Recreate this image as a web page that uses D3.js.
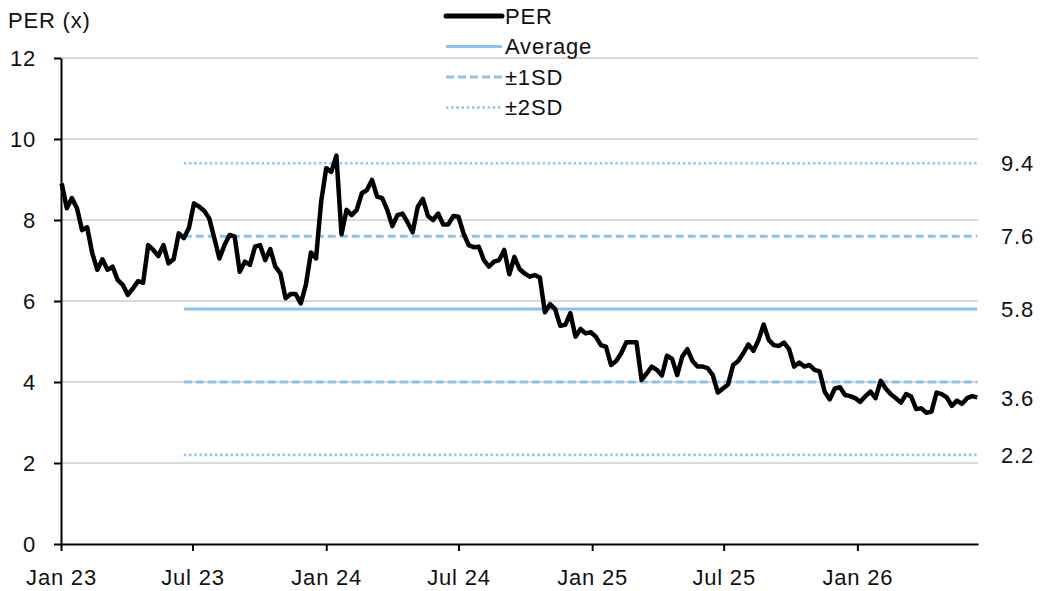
<!DOCTYPE html>
<html><head><meta charset="utf-8">
<script src="https://cdn.jsdelivr.net/npm/d3@7"></script>
<style>
body{margin:0;background:#fff}
svg{display:block}
text{font-family:"Liberation Sans",Arial,Helvetica,sans-serif;font-size:22px;fill:#111;letter-spacing:0.8px}
</style>
</head><body>
<svg id="chart" width="1064" height="591"></svg>
<script>
// ---- data ----
const firstWeek = "2023-01-02"; // weekly observations, one per week from this date
const perValues = [
  8.90, 8.29, 8.54, 8.29, 7.75, 7.82, 7.18, 6.77, 7.03, 6.77,
  6.85, 6.52, 6.40, 6.15, 6.31, 6.49, 6.45, 7.38, 7.26, 7.11,
  7.38, 6.93, 7.03, 7.67, 7.55, 7.80, 8.41, 8.33, 8.23, 8.04,
  7.55, 7.05, 7.38, 7.63, 7.59, 6.72, 6.97, 6.89, 7.34, 7.38,
  7.01, 7.28, 6.85, 6.68, 6.07, 6.17,
  6.17, 5.94, 6.40, 7.20, 7.05, 8.45, 9.28, 9.19, 9.59, 7.65,
  8.25, 8.12, 8.25, 8.66, 8.74, 8.99, 8.58, 8.54, 8.25, 7.85,
  8.12, 8.16, 7.94, 7.70, 8.33, 8.52, 8.10, 8.00, 8.16, 7.89,
  7.89, 8.10, 8.08, 7.67, 7.38, 7.33, 7.34, 7.01, 6.85, 6.97,
  7.01, 7.26, 6.66, 7.09, 6.79, 6.68, 6.60, 6.64, 6.58,
  5.72, 5.92, 5.80, 5.39, 5.41, 5.70, 5.12, 5.31, 5.20, 5.23,
  5.12, 4.91, 4.87, 4.42, 4.52, 4.71, 4.98, 4.98, 4.98, 4.05,
  4.21, 4.38, 4.30, 4.16, 4.65, 4.57, 4.17, 4.63, 4.81, 4.52,
  4.38, 4.38, 4.34, 4.17, 3.74, 3.84, 3.94, 4.42, 4.52, 4.71,
  4.93, 4.77, 5.04, 5.42,
  5.04, 4.91, 4.89, 4.97, 4.81, 4.38, 4.48, 4.38, 4.42, 4.30,
  4.26, 3.76, 3.57, 3.84, 3.87, 3.68, 3.65, 3.60, 3.51, 3.65,
  3.76, 3.60, 4.03, 3.84, 3.70, 3.60, 3.49, 3.70, 3.64, 3.33,
  3.35, 3.24, 3.27, 3.74, 3.70, 3.62, 3.41, 3.54, 3.46, 3.60,
  3.65, 3.62
];
const refStart = "2023-06-19";
const refNames = ["Average", "+1SD", "-1SD", "+2SD", "-2SD"];
const refValues = [5.8, 7.6, 4.0, 9.4, 2.2];
const refKinds = ["avg", "sd1", "sd1", "sd2", "sd2"];
const sideLabels = ["9.4", "7.6", "5.8", "3.6", "2.2"];
const yTicks = [0, 2, 4, 6, 8, 10, 12];
const xDomain = ["2023-01-01", "2026-06-16"];
const legendLabels = ["PER", "Average", "\u00b11SD", "\u00b12SD"];
const legendKinds = ["per", "avg", "sd1", "sd2"];
const yTitle = "PER (x)";

// ---- styles ----
const BLUE = "#8cc1ef";
const styleOf = {
  per: {stroke: "#000", width: 4.5, dash: null},
  avg: {stroke: BLUE, width: 3, dash: null},
  sd1: {stroke: BLUE, width: 3, dash: "8,4"},
  sd2: {stroke: BLUE, width: 2.6, dash: "2.4,2.8"}
};

// ---- layout ----
const M = {left: 61, right: 978, top: 58, bottom: 544};
const parse = d3.timeParse("%Y-%m-%d");
const x = d3.scaleTime().domain(xDomain.map(parse)).range([M.left, M.right]);
const y = d3.scaleLinear().domain([0, 12]).range([M.bottom, M.top]);

const svg = d3.select("#chart");
const start = parse(firstWeek);
const series = perValues.map((v, i) => ({date: d3.timeWeek.offset(start, i), value: v}));
const lastDate = series[series.length - 1].date;

// gridlines
svg.append("g").selectAll("line").data(yTicks.filter(t => t > 0)).join("line")
  .attr("x1", M.left).attr("x2", M.right)
  .attr("y1", d => y(d)).attr("y2", d => y(d))
  .attr("stroke", "#d9d9d9").attr("stroke-width", 2);

// reference lines
const refs = refValues.map((v, i) => ({name: refNames[i], value: v, kind: refKinds[i]}));
svg.append("g").selectAll("line").data(refs).join("line")
  .attr("x1", x(parse(refStart))).attr("x2", x(lastDate))
  .attr("y1", d => y(d.value)).attr("y2", d => y(d.value))
  .attr("stroke", d => styleOf[d.kind].stroke)
  .attr("stroke-width", d => styleOf[d.kind].width)
  .attr("stroke-dasharray", d => styleOf[d.kind].dash);

// PER line
const line = d3.line().x(d => x(d.date)).y(d => y(d.value));
svg.append("path").datum(series)
  .attr("d", line).attr("fill", "none")
  .attr("stroke", "#000").attr("stroke-width", styleOf.per.width)
  .attr("stroke-linejoin", "round").attr("stroke-linecap", "butt");

// axes
const xAxis = d3.axisBottom(x)
  .ticks(d3.timeMonth.every(6))
  .tickFormat(d3.timeFormat("%b %y"))
  .tickSize(7).tickSizeOuter(0).tickPadding(18);
const gx = svg.append("g").attr("transform", `translate(0,${M.bottom})`).call(xAxis);
const yAxis = d3.axisLeft(y).tickValues(yTicks).tickSize(7).tickSizeOuter(0).tickPadding(18);
const gy = svg.append("g").attr("transform", `translate(${M.left},0)`).call(yAxis);
[gx, gy].forEach(g => {
  g.attr("font-size", null).attr("font-family", null);
  g.select(".domain").attr("stroke", "#000").attr("stroke-width", 2);
  g.selectAll(".tick line").attr("stroke", "#000").attr("stroke-width", 2);
  g.selectAll(".tick text").attr("fill", "#111");
});

// y title
svg.append("text").attr("x", 8).attr("y", 28).text(yTitle);

// right-side labels
svg.append("g").selectAll("text").data(sideLabels).join("text")
  .attr("x", 1001).attr("y", d => y(+d)).attr("dy", "0.35em").text(d => d);

// legend
const leg = svg.append("g").selectAll("g").data(legendLabels).join("g")
  .attr("transform", (d, i) => `translate(446,${16 + i * 30.5})`);
leg.append("line").attr("x1", 0).attr("x2", 56).attr("y1", 0).attr("y2", 0)
  .attr("stroke", (d, i) => styleOf[legendKinds[i]].stroke)
  .attr("stroke-width", (d, i) => legendKinds[i] === "per" ? 5 : styleOf[legendKinds[i]].width)
  .attr("stroke-linecap", (d, i) => legendKinds[i] === "per" ? "round" : "butt")
  .attr("stroke-dasharray", (d, i) => styleOf[legendKinds[i]].dash);
leg.append("text").attr("x", 59).attr("dy", "0.35em").text(d => d);
</script>
</body></html>
